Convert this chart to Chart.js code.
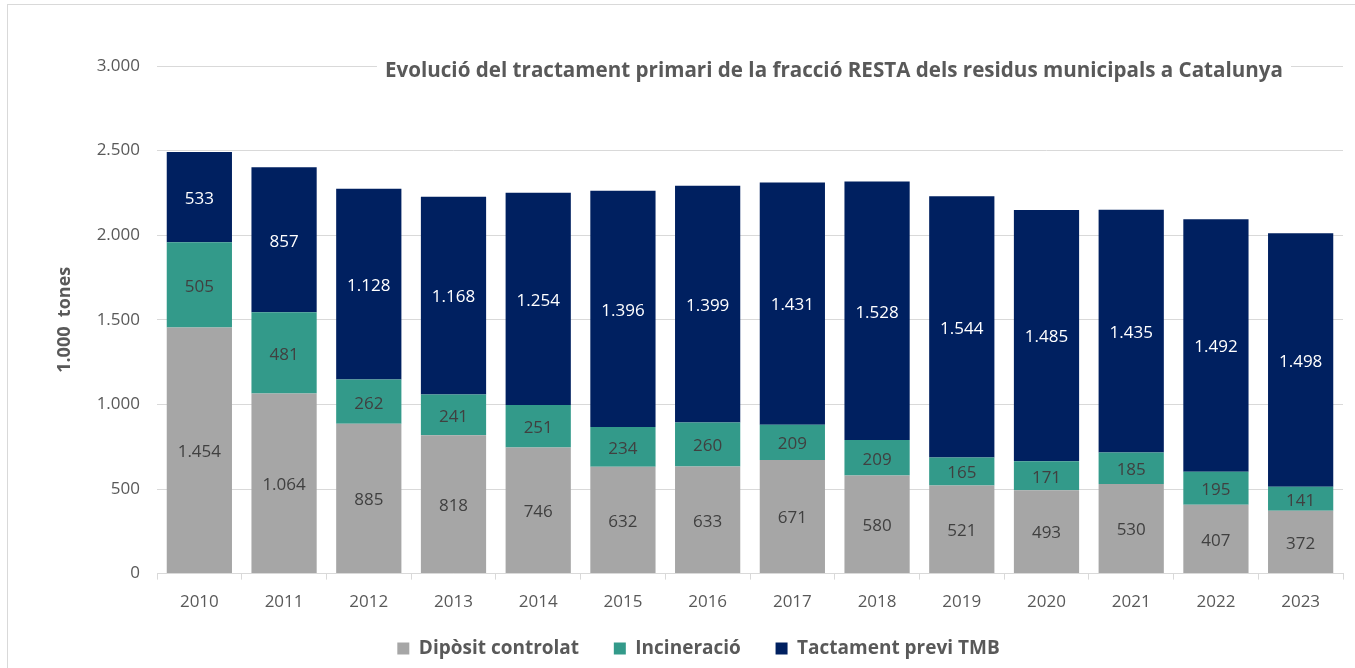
<!DOCTYPE html>
<html>
<head>
<meta charset="utf-8">
<script src="https://cdn.jsdelivr.net/npm/chart.js@4"></script>
<style>
  body { margin: 0; background: #fff; }
  #frame {
    position: absolute; left: 7px; top: 4px;
    width: 1348px; height: 664px;
    border-top: 1px solid #d9d9d9; border-left: 1px solid #d9d9d9;
  }
  #chart { display: block; }
</style>
</head>
<body>
<div id="frame"><canvas id="chart" width="1347" height="663"></canvas></div>
<script>
const years = ['2010', '2011', '2012', '2013', '2014', '2015', '2016', '2017', '2018', '2019', '2020', '2021', '2022', '2023'];
const diposit = [1454, 1064, 885, 818, 746, 632, 633, 671, 580, 521, 493, 530, 407, 372];
const incineracio = [505, 481, 262, 241, 251, 234, 260, 209, 209, 165, 171, 185, 195, 141];
const tmb = [533, 857, 1128, 1168, 1254, 1396, 1399, 1431, 1528, 1544, 1485, 1435, 1492, 1498];
const yTicks = [0, 500, 1000, 1500, 2000, 2500, 3000];

const titleText = 'Evolució del tractament primari de la fracció RESTA dels residus municipals a Catalunya';
const FONT = "'Open Sans', sans-serif";
const GREY_TXT = '#595959';

// format with a dot as thousands separator (catalan)
function fmt(v) {
    return String(v).replace(/\B(?=(\d{3})+(?!\d))/g, '.');
}

// value labels inside each segment + title box
const labelsPlugin = {
    id: 'labels',
    afterDatasetsDraw(chart) {
        const ctx = chart.ctx;
        ctx.save();
        ctx.textAlign = 'center';
        ctx.textBaseline = 'middle';
        ctx.font = '17px ' + FONT;
        chart.data.datasets.forEach((ds, di) => {
            const meta = chart.getDatasetMeta(di);
            meta.data.forEach((bar, i) => {
                const p = bar.getCenterPoint();
                ctx.fillStyle = ds.labelColor;
                ctx.fillText(fmt(ds.data[i]), p.x, p.y + 2);
            });
        });
        ctx.restore();
    },
    afterDraw(chart) {
        const ctx = chart.ctx;
        const area = chart.chartArea;
        ctx.save();
        ctx.font = 'bold 20.6px ' + FONT;
        const w = ctx.measureText(titleText).width;
        const xr = area.right - 60;
        const y = area.top + 5;
        ctx.fillStyle = '#fff';
        ctx.fillRect(xr - w - 8, y - 14, w + 16, 28);
        ctx.fillStyle = GREY_TXT;
        ctx.textAlign = 'right';
        ctx.textBaseline = 'middle';
        ctx.fillText(titleText, xr, y);
        ctx.restore();
    }
};

const ctx = document.getElementById('chart').getContext('2d');
new Chart(ctx, {
    type: 'bar',
    data: {
        labels: years,
        datasets: [
            { label: 'Dipòsit controlat', data: diposit, backgroundColor: '#a6a6a6', labelColor: '#404040' },
            { label: 'Incineració', data: incineracio, backgroundColor: '#339a8a', labelColor: '#404040' },
            { label: 'Tactament previ TMB', data: tmb, backgroundColor: '#002060', labelColor: '#ffffff' }
        ]
    },
    options: {
        responsive: false,
        animation: false,
        layout: { padding: { left: 46, right: 12, top: 61, bottom: 0 } },
        datasets: {
            bar: { barPercentage: 0.77, categoryPercentage: 1.0, borderWidth: 0 }
        },
        scales: {
            x: {
                stacked: true,
                grid: { display: true, drawOnChartArea: false, drawTicks: true, tickLength: 6, color: '#d9d9d9', offset: true },
                border: { display: true, color: '#d9d9d9' },
                ticks: { color: GREY_TXT, font: { family: FONT, size: 17 }, padding: 12 }
            },
            y: {
                stacked: true,
                min: 0,
                max: 3000,
                afterBuildTicks: (s) => { s.ticks = yTicks.map(v => ({ value: v })); },
                afterFit: (s) => { s.width = 103; },
                grid: { color: '#d9d9d9', drawTicks: false },
                border: { display: false },
                ticks: {
                    color: GREY_TXT,
                    font: { family: FONT, size: 17 },
                    padding: 17,
                    callback: (v) => fmt(v)
                },
                title: {
                    display: true,
                    text: '1.000  tones',
                    color: GREY_TXT,
                    font: { family: FONT, size: 18, weight: 'bold' },
                    padding: 0
                }
            }
        },
        plugins: {
            legend: {
                position: 'bottom',
                labels: {
                    boxWidth: 12,
                    boxHeight: 12,
                    padding: 15,
                    color: GREY_TXT,
                    font: { family: FONT, size: 19, weight: 'bold' },
                    generateLabels: (chart) => {
                        const items = Chart.defaults.plugins.legend.labels.generateLabels(chart);
                        // a bit more room between the items
                        items.forEach((it, i) => { if (i < items.length - 1) it.text += '    '; });
                        return items;
                    }
                }
            },
            tooltip: { enabled: false }
        }
    },
    plugins: [labelsPlugin]
});
</script>
</body>
</html>
